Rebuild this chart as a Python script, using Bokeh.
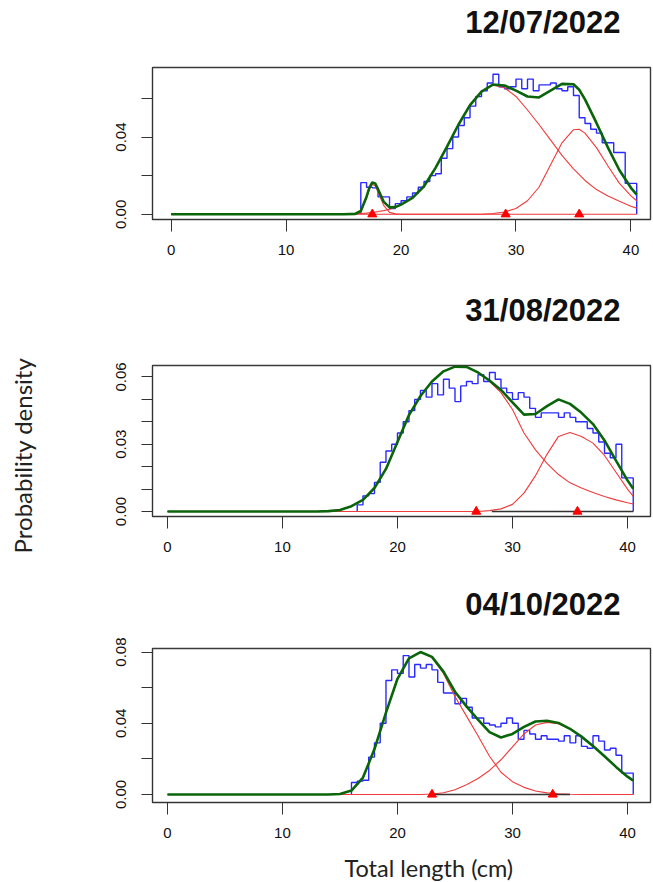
from math import pi
from bokeh.plotting import figure
from bokeh.layouts import column, row
from bokeh.models import Range1d, FixedTicker, NumeralTickFormatter
from bokeh.core.properties import value
from bokeh.embed import file_html
from bokeh.resources import INLINE

# ---------------- data ----------------
titles = ["12/07/2022", "31/08/2022", "04/10/2022"]
y_title = "Probability density"
x_title = "Total length (cm)"
bin_width = 0.5
x_ticks = [0, 10, 20, 30, 40]

# panel 1 (12/07/2022)
p1_hist_start = 16.5
p1_hist = [0.0164, 0.0140, 0.0137, 0.0090, 0.0090, 0.0030, 0.0055, 0.0070, 0.0090, 0.0110,
           0.0140, 0.0170, 0.0200, 0.0210, 0.0290, 0.0340, 0.0400, 0.0460, 0.0500, 0.0560,
           0.0610, 0.0640, 0.0680, 0.0725, 0.0660, 0.0650, 0.0660, 0.0700, 0.0650, 0.0700,
           0.0640, 0.0670, 0.0670, 0.0680, 0.0650, 0.0640, 0.0660, 0.0615, 0.0500, 0.0470,
           0.0440, 0.0420, 0.0370, 0.0370, 0.0320, 0.0320, 0.0160, 0.0160]
p1_x = [0, 15, 16, 16.5, 17, 17.25, 17.5, 17.75, 18, 18.5, 19, 19.5, 20, 21, 22, 23, 24, 25,
        26, 27, 28, 29, 30, 31, 32, 33, 34, 35, 35.5, 36, 37, 38, 39, 40, 40.5]
p1_comp1 = [0, 0, 0, 0.0013, 0.0085, 0.0130, 0.0155, 0.0148, 0.0115, 0.0045, 0.0010, 0.0002,
            0, 0, 0, 0, 0, 0, 0, 0, 0, 0, 0, 0, 0, 0, 0, 0, 0, 0, 0, 0, 0, 0, 0]
p1_comp2 = [0, 0, 0.0002, 0.0004, 0.0006, 0.0008, 0.0010, 0.0012, 0.0014, 0.0019, 0.0026, 0.0035,
            0.0050, 0.0085, 0.0145, 0.0240, 0.0350, 0.0465, 0.0565, 0.0635, 0.0668, 0.0655,
            0.0610, 0.0540, 0.0465, 0.0385, 0.0305, 0.0235, 0.0205, 0.0175, 0.0128, 0.0095,
            0.0068, 0.0042, 0.0032]
p1_comp3 = [0, 0, 0, 0, 0, 0, 0, 0, 0, 0, 0, 0, 0, 0, 0, 0, 0, 0, 0, 0, 0.0004, 0.0012,
            0.0030, 0.0070, 0.0140, 0.0255, 0.0370, 0.0438, 0.0440, 0.0420, 0.0345, 0.0250,
            0.0160, 0.0095, 0.0070]
p1_means = [17.5, 29.1, 35.5]

# panel 2 (31/08/2022)
p2_hist_start = 16.5
p2_hist = [0.003, 0.007, 0.008, 0.013, 0.022, 0.027, 0.030, 0.035, 0.040, 0.045,
           0.050, 0.054, 0.051, 0.057, 0.052, 0.059, 0.055, 0.049, 0.056, 0.058,
           0.057, 0.061, 0.058, 0.062, 0.059, 0.055, 0.053, 0.050, 0.053, 0.051,
           0.046, 0.042, 0.044, 0.044, 0.044, 0.042, 0.044, 0.042, 0.040, 0.040,
           0.037, 0.035, 0.031, 0.026, 0.024, 0.030, 0.015, 0.015]
p2_x = [0, 13, 14, 15, 16, 17, 18, 19, 20, 21, 22, 23, 24, 25, 26, 27, 28, 29, 30, 31, 32,
        33, 34, 35, 36, 37, 38, 39, 40, 40.5]
p2_comp1 = [0, 0, 0.0002, 0.0007, 0.0024, 0.0052, 0.0105, 0.0190, 0.0310, 0.0430, 0.0515,
            0.0580, 0.0625, 0.0646, 0.0645, 0.0620, 0.0580, 0.0530, 0.0455, 0.0350, 0.0275,
            0.0215, 0.0165, 0.0128, 0.0105, 0.0085, 0.0067, 0.0052, 0.0039, 0.0034]
p2_comp2 = [0, 0, 0, 0, 0, 0, 0, 0, 0, 0, 0, 0, 0, 0, 0, 0, 0.0004, 0.0012, 0.0032, 0.0082,
            0.0160, 0.0255, 0.0335, 0.0352, 0.0335, 0.0305, 0.0250, 0.0175, 0.0100, 0.0068]
p2_means = [26.85, 35.65]
p2_segment = [28.2, 40.5]

# panel 3 (04/10/2022)
p3_hist_start = 16.0
p3_hist = [0.0067, 0.0075, 0.008, 0.021, 0.029, 0.040, 0.064, 0.070, 0.068, 0.078,
           0.066, 0.073, 0.071, 0.073, 0.070, 0.063, 0.057, 0.057, 0.051, 0.054,
           0.049, 0.043, 0.043, 0.040, 0.039, 0.038, 0.040, 0.043, 0.040, 0.031,
           0.036, 0.034, 0.031, 0.033, 0.031, 0.031, 0.030, 0.033, 0.029, 0.033,
           0.027, 0.026, 0.033, 0.030, 0.025, 0.026, 0.022, 0.012, 0.012]
p3_x = p2_x
p3_comp1 = [0, 0, 0, 0.0003, 0.0022, 0.0095, 0.0255, 0.0460, 0.0650, 0.0765, 0.0800, 0.0770,
            0.0680, 0.0550, 0.0440, 0.0330, 0.0215, 0.0125, 0.0072, 0.0040, 0.0020, 0.0009,
            0.0004, 0.0001, 0, 0, 0, 0, 0, 0]
p3_comp2 = [0, 0, 0, 0, 0, 0, 0, 0, 0, 0, 0, 0.0003, 0.0010, 0.0027, 0.0055, 0.0090, 0.0135,
            0.0195, 0.0268, 0.0340, 0.0390, 0.0405, 0.0398, 0.0368, 0.0325, 0.0272, 0.0215,
            0.0155, 0.0100, 0.0078]
p3_means = [23.0, 33.5]
p3_segment = [22.9, 35.0]

TICK_FONT = "Liberation Sans"
LEFT_STRIP = 45
COL_W = 653 - LEFT_STRIP
FRAME_L = 152          # absolute page x of every frame's left edge
FRAME_R = 650          # absolute page x of every frame's right edge
BORDER_L = FRAME_L - LEFT_STRIP
BORDER_R = 653 - FRAME_R


def strip(width, height, x_range, left=0, right=0):
    s = figure(width=width, height=height, output_backend="svg", toolbar_location=None,
               x_range=x_range, y_range=Range1d(0, height), title=None,
               x_axis_type=None, y_axis_type=None, min_border=0,
               min_border_left=left, min_border_right=right)
    s.grid.visible = False
    s.outline_line_color = None
    s.background_fill_color = "white"
    s.border_fill_color = "white"
    return s


def col_strip(height):
    # frame spans the same page columns as the panels; data x == page x
    return strip(COL_W, height, Range1d(FRAME_L, FRAME_R), BORDER_L, BORDER_R)


def title_strip(text, height, right_x, center_from_top):
    s = col_strip(height)
    s.text(x=[right_x], y=[height - center_from_top], text=[text],
           text_font=value("Liberation Sans"), text_font_style="bold",
           text_font_size=value("31px"), text_align="right",
           text_baseline="middle", text_color="#111111")
    return s


def make_panel(hstart, hvals, gx, comps, means, segment, xr, yr, ymaj, ymin, height,
               top, bottom):
    p = figure(width=COL_W, height=height, output_backend="svg", toolbar_location=None,
               x_range=Range1d(*xr), y_range=Range1d(*yr), title=None,
               min_border_left=BORDER_L, min_border_right=BORDER_R,
               min_border_top=top, min_border_bottom=bottom)
    p.grid.visible = False
    p.outline_line_color = "#3a3a3a"
    p.outline_line_width = 1.4
    p.background_fill_color = "white"
    p.border_fill_color = "white"

    # histogram outline (step)
    edges = [hstart + bin_width * i for i in range(len(hvals) + 1)]
    sx, sy = [edges[0]], [0.0]
    for i, h in enumerate(hvals):
        sx += [edges[i], edges[i + 1]]
        sy += [h, h]
    sx.append(edges[-1])
    sy.append(0.0)
    p.line(sx, sy, line_color="#2a2aff", line_width=1.4)

    # components
    for c in comps:
        p.line(gx, c, line_color="#ee3b3b", line_width=1.1)
    if segment:
        p.line(segment, [0, 0], line_color="#333333", line_width=1.5)
    total = [sum(v) for v in zip(*comps)]
    p.line(gx, total, line_color="#0a640a", line_width=2.6)

    p.scatter(means, [0] * len(means), marker="triangle", size=9,
              fill_color="#ff0000", line_color="#ff0000")

    # axes
    xa = p.xaxis[0]
    xa.ticker = FixedTicker(ticks=x_ticks)
    ya = p.yaxis[0]
    ya.ticker = FixedTicker(ticks=ymaj, minor_ticks=ymin)
    ya.formatter = NumeralTickFormatter(format="0.00")
    ya.major_label_orientation = "vertical"
    for ax in (xa, ya):
        ax.axis_line_color = "#333333"
        ax.major_tick_line_color = "#333333"
        ax.minor_tick_line_color = "#333333"
        ax.major_tick_in = 0
        ax.minor_tick_in = 0
        ax.major_label_text_font = TICK_FONT
        ax.major_label_text_font_size = "15px"
        ax.major_label_text_color = "#111111"
    xa.major_tick_out = 12
    xa.minor_tick_out = 0
    xa.major_label_standoff = 13
    ya.major_tick_out = 11
    ya.minor_tick_out = 11
    ya.major_label_standoff = 15
    return p


t1 = title_strip(titles[0], 45, 620, 22)
p1 = make_panel(p1_hist_start, p1_hist, p1_x, [p1_comp1, p1_comp2, p1_comp3], p1_means, None,
                (-1.62, 41.7), (-0.0027, 0.076), [0.0, 0.04], [0.02, 0.06], 223, 22, 49)
t2 = title_strip(titles[1], 62, 620, 42)
p2 = make_panel(p2_hist_start, p2_hist, p2_x, [p2_comp1, p2_comp2], p2_means, p2_segment,
                (-1.3, 42.0), (-0.0022, 0.0651), [0.0, 0.03, 0.06], [0.01, 0.02, 0.04, 0.05],
                230, 35, 44)
t3 = title_strip(titles[2], 65, 620, 44)
p3 = make_panel(p3_hist_start, p3_hist, p3_x, [p3_comp1, p3_comp2], p3_means, p3_segment,
                (-1.3, 42.0), (-0.0045, 0.082), [0.0, 0.04, 0.08], [0.02, 0.06],
                220, 23, 43)

xl = col_strip(37)
xl.text(x=[344], y=[37 - 22], text=[x_title], text_font=value("Lato"),
        text_font_size=value("23.5px"), text_align="left", text_baseline="middle",
        text_color="#222222")

yl = strip(LEFT_STRIP, 882, Range1d(0, LEFT_STRIP))
yl.text(x=[22], y=[882 - 455], text=[y_title], angle=pi / 2, text_font=value("Lato"),
        text_font_size=value("24px"), text_align="center", text_baseline="middle",
        text_color="#222222")

layout = row(yl, column(t1, p1, t2, p2, t3, p3, xl, spacing=0), spacing=0)
open("out.html", "w").write(file_html(layout, INLINE))
